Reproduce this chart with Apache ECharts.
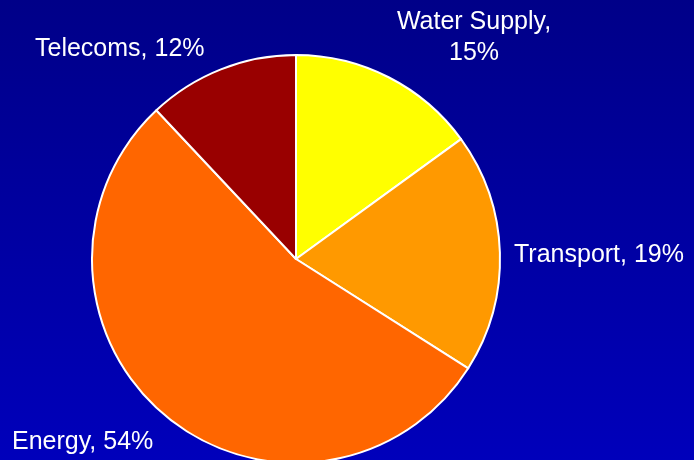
<!DOCTYPE html>
<html>
<head>
<meta charset="utf-8">
<script src="https://cdn.jsdelivr.net/npm/echarts@6/dist/echarts.min.js"></script>
<style>
html,body{margin:0;padding:0;}
#c{width:694px;height:460px;}
</style>
</head>
<body>
<div id="c"></div>
<script>
var categories = ['Water Supply', 'Transport', 'Energy', 'Telecoms'];
var values = [15, 19, 54, 12];
var labelTexts = ['Water Supply,\n15%', 'Transport, 19%', 'Energy, 54%', 'Telecoms, 12%'];

var colors = ['#FFFF00', '#FF9900', '#FF6600', '#990000'];
var labelPos = [
  { x: 474, y: 38, align: 'center' },
  { x: 514, y: 255, align: 'left' },
  { x: 12, y: 442, align: 'left' },
  { x: 35, y: 49, align: 'left' }
];

var chart = echarts.init(document.getElementById('c'));
chart.setOption({
  animation: false,
  backgroundColor: {
    type: 'linear', x: 0, y: 0, x2: 0, y2: 1,
    colorStops: [{ offset: 0, color: '#000088' }, { offset: 1, color: '#0000BB' }]
  },
  series: [{
    type: 'pie',
    center: [296, 259],
    radius: 204,
    startAngle: 90,
    clockwise: true,
    avoidLabelOverlap: false,
    itemStyle: { borderColor: '#FFFFFF', borderWidth: 2 },
    label: {
      show: true,
      color: '#FFFFFF',
      fontFamily: '"Liberation Sans", Arial, sans-serif',
      fontSize: 25,
      lineHeight: 31,
      formatter: function (p) { return labelTexts[p.dataIndex]; }
    },
    labelLine: { show: false },
    labelLayout: function (p) {
      var lp = labelPos[p.dataIndex];
      return { x: lp.x, y: lp.y, align: lp.align, verticalAlign: 'middle' };
    },
    emphasis: { disabled: true },
    data: categories.map(function (c, i) {
      return { name: c, value: values[i], itemStyle: { color: colors[i] } };
    })
  }]
});
</script>
</body>
</html>
